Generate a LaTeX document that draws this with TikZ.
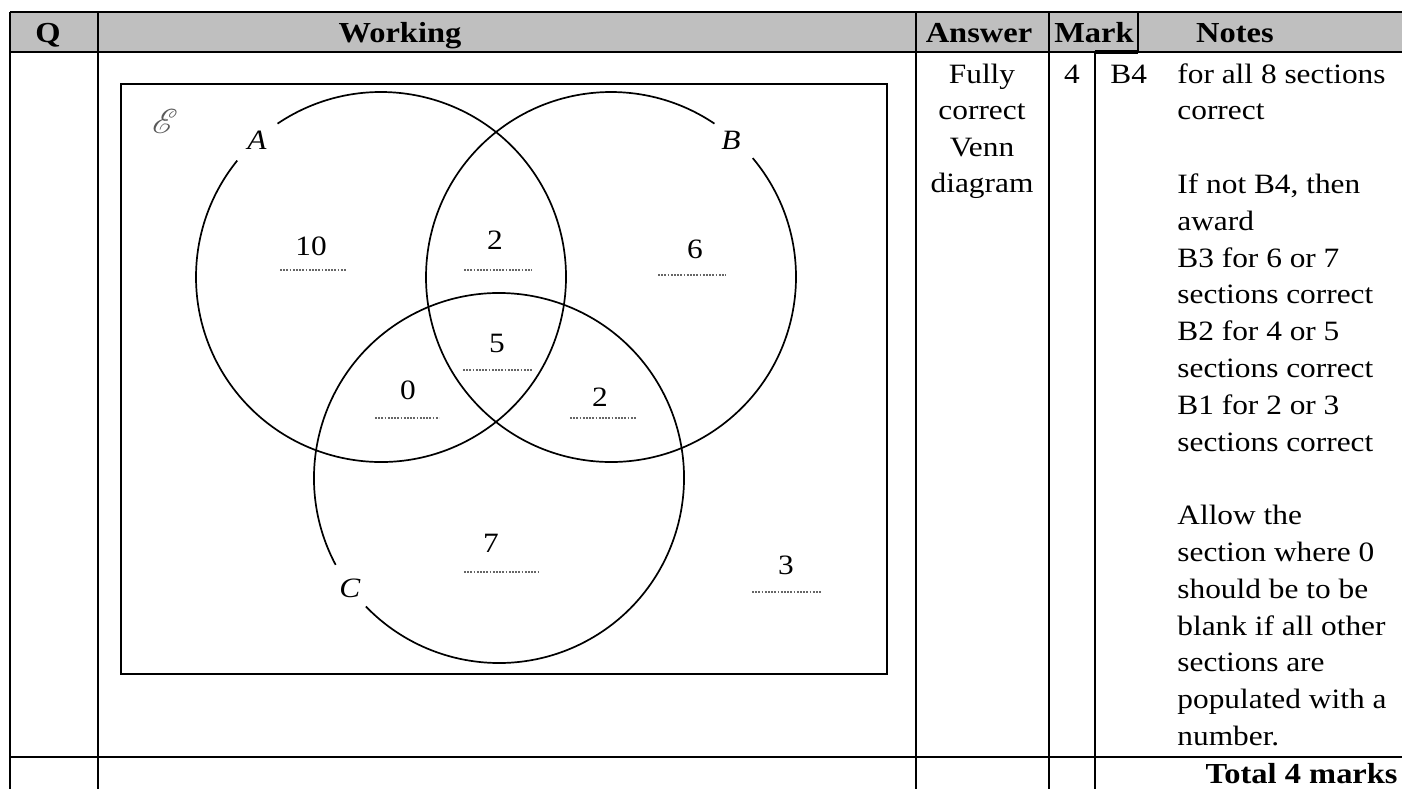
\documentclass[tikz,border=0pt]{standalone}
\usepackage{fontspec}
\setmainfont{Liberation Serif}[FakeStretch=1.12]
\IfFileExists{mathrsfs.sty}{\usepackage{mathrsfs}}{\providecommand\mathscr{\mathcal}}
\begin{document}
\begin{tikzpicture}[x=0.5pt,y=-0.5pt,
  rule/.style={line width=1pt},
  ring/.style={line width=0.85pt},
  txt/.style={inner sep=0pt, font=\fontsize{14}{17}\selectfont},
  hdr/.style={inner sep=0pt, anchor=base, font=\fontsize{14.5}{17}\selectfont\bfseries},
  num/.style={txt, anchor=base},
  dotline/.style={black!60, line width=0.9pt, dash pattern=on 0.9pt off 0.7pt}]
\useasboundingbox (0,0) rectangle (1402,789);
% header background
\fill[black!25] (10,12) rectangle (1402,52);
% table rules
\draw[rule] (10,12) -- (1402,12);
\draw[rule] (10,52) -- (1402,52);
\draw[line width=2pt] (1095,52) -- (1138,52);
\draw[rule] (10,757) -- (1402,757);
\foreach \xx in {10,98,916,1049} {\draw[rule] (\xx,12) -- (\xx,789);}
\draw[rule] (1095,52) -- (1095,789);
\draw[rule] (1138,12) -- (1138,52);
% header texts
\node[hdr] (hQ) at (48,42) {Q};
\node[hdr] (hW) at (400,42) {Working};
\node[hdr] (hA) at (979,42) {Answer};
\node[hdr] (hM) at (1094,42) {Mark};
\node[hdr] (hN) at (1235,42) {Notes};
% answer column
\foreach \t [count=\i from 0] in {Fully,correct,Venn,diagram}
  {\node[num] (ans\i) at (982,{83+36.5*\i}) {\t};}
\node[num] (mk) at (1072,83) {4};
\node[txt, anchor=base west] (b4) at (1110,83) {B4};
% notes
\foreach \t [count=\i from 0] in {for all 8 sections,correct,{},{If not B4, then},award,B3 for 6 or 7,sections correct,B2 for 4 or 5,sections correct,B1 for 2 or 3,sections correct,{},Allow the,section where 0,should be to be,blank if all other,sections are,populated with a,number.}
  {\node[txt, anchor=base west] (note\i) at (1177,{83+36.8*\i}) {\t};}
\node[hdr, anchor=base east] (tot) at (1398,783) {Total 4 marks};
% Venn box
\draw[line width=1pt] (121,84) rectangle (887,674);
\node[txt, black!65, font=\fontsize{19}{21}\selectfont] (uni) at (165,121) {$\mathscr{E}$};
% circles with gaps for labels
\draw[ring] ([shift={(236:185)}]381,277) arc[start angle=236, end angle=579, radius=185];
\draw[ring] ([shift={(320:185)}]611,277) arc[start angle=320, end angle=664, radius=185];
\draw[ring] ([shift={(152:185)}]499,478) arc[start angle=152, end angle=496, radius=185];
\node[num] (lA) at (257,149) {\textit{A}};
\node[num] (lB) at (731,149) {\textit{B}};
\node[num] (lC) at (350,597) {\textit{C}};
% region values
\node[num] (v10) at (311,255) {10}; \draw[dotline] (280,270) -- (347,270);
\node[num] (vAB) at (495,249) {2};  \draw[dotline] (464,270) -- (532,270);
\node[num] (vB) at (695,258) {6};   \draw[dotline] (658,275) -- (726,275);
\node[num] (vABC) at (497,352) {5}; \draw[dotline] (463,370) -- (532,370);
\node[num] (vAC) at (408,399) {0};  \draw[dotline] (375,418) -- (439,418);
\node[num] (vBC) at (600,406) {2};  \draw[dotline] (570,418) -- (637,418);
\node[num] (vC) at (491,552) {7};   \draw[dotline] (464,572) -- (539,572);
\node[num] (vU) at (786,574) {3};   \draw[dotline] (752,592) -- (822,592);
\end{tikzpicture}
\end{document}
